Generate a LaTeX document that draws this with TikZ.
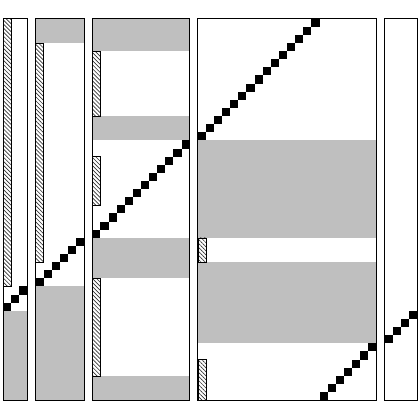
\documentclass[tikz,border=0pt]{standalone}
\usepackage{tikz}
\usetikzlibrary{patterns, patterns.meta}
\tikzset{
	panel/.style={draw, thick},
	band/.style={fill=gray!50},
	hatch/.style={draw, thin, pattern={Lines[angle=-45, distance=3pt, line width=0.7pt]}, pattern color=black!80},
	blk/.style={fill=black}
}
\begin{document}
\begin{tikzpicture}[x=0.3cm, y=0.3cm]
	% Fixed frame, one unit = one diagonal square
	\useasboundingbox (-0.37,-2.45) rectangle (51.37,49.3);
	
	% Grey bands (rows already processed)
	\fill[band] (0,0) rectangle (3,11);
	\fill[band] (4,44) rectangle (10,47);
	\fill[band] (4,0) rectangle (10,14);
	\fill[band] (11,43) rectangle (23,47);
	\fill[band] (11,32) rectangle (23,35);
	\fill[band] (11,15) rectangle (23,20);
	\fill[band] (11,0) rectangle (23,3);
	\fill[band] (24,20) rectangle (46,32);
	\fill[band] (24,7) rectangle (46,17);
	
	% Hatched strips on the left edge of the blocks
	\draw[hatch] (0,14) rectangle (1,47);
	\draw[hatch] (4,17) rectangle (5,44);
	\draw[hatch] (11,35) rectangle (12,43);
	\draw[hatch] (11,24) rectangle (12,30);
	\draw[hatch] (11,3) rectangle (12,15);
	\draw[hatch] (24,17) rectangle (25,20);
	\draw[hatch] (24,0) rectangle (25,5);
	
	% Diagonal staircases of black squares
	\foreach \i in {0,...,2} {
		\fill[blk] (0+\i,11+\i) rectangle ++(1,1);
	}
	\foreach \i in {0,...,5} {
		\fill[blk] (4+\i,14+\i) rectangle ++(1,1);
	}
	\foreach \i in {0,...,11} {
		\fill[blk] (11+\i,20+\i) rectangle ++(1,1);
	}
	\foreach \i in {0,...,14} { % upper part of the wide block
		\fill[blk] (24+\i,32+\i) rectangle ++(1,1);
	}
	\foreach \i in {0,...,6} { % wrapped part at the bottom
		\fill[blk] (39+\i,0+\i) rectangle ++(1,1);
	}
	\foreach \i in {0,...,3} {
		\fill[blk] (47+\i,7+\i) rectangle ++(1,1);
	}
	
	% Block outlines
	\draw[panel] (0,0) rectangle (3,47);
	\draw[panel] (4,0) rectangle (10,47);
	\draw[panel] (11,0) rectangle (23,47);
	\draw[panel] (24,0) rectangle (46,47);
	\draw[panel] (47,0) rectangle (51,47);
	
\end{tikzpicture}
\end{document}
